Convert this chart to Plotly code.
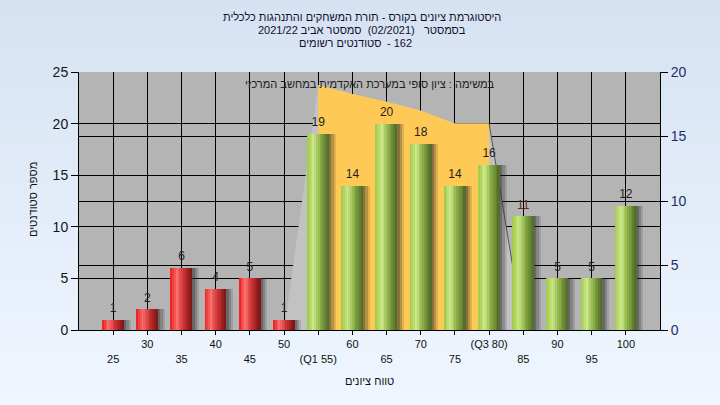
import plotly.graph_objects as go

# ---------------- data ----------------
categories = [25, 30, 35, 40, 45, 50, 55, 60, 65, 70, 75, 80, 85, 90, 95, 100]
counts = [1, 2, 6, 4, 5, 1, 19, 14, 20, 18, 14, 16, 11, 5, 5, 12]
tick_labels = ['25', '30', '35', '40', '45', '50', '(Q1 55)', '60', '65', '70',
               '75', '(Q3 80)', '85', '90', '95', '100']
pass_grade = 55
area_x = [50, 55, 60, 65, 70, 75, 80, 85]
area_y = [0, 19, 18.3, 17.7, 17, 16, 16, 0]

NB = '\u00a0'
title_lines = ['היסטוגרמת ציונים בקורס - תורת המשחקים והתנהגות כלכלית',
               'בסמסטר' + NB * 3 + '(02/2021)' + NB * 2 + 'סמסטר אביב 2021/22']
students_text = 'סטודנטים רשומים'
students_count = '- 162'
inner_note = 'במשימה : ציון סופי במערכת האקדמית במחשב המרכזי'
y_title = 'מספר סטודנטים'
x_title = 'טווח ציונים'

# ---------------- styling helpers ----------------
FONT = 'Liberation Sans, Arial, sans-serif'
BAR_W = 3.1
N_STRIPS = 12

red_stops = [(0.0, (232, 28, 28)), (0.3, (250, 112, 112)), (0.6, (205, 52, 52)), (1.0, (120, 20, 20))]
green_stops = [(0.0, (158, 200, 70)), (0.3, (204, 232, 138)), (0.6, (140, 176, 70)), (1.0, (78, 104, 40))]


def grad(stops, t):
    for (t0, c0), (t1, c1) in zip(stops[:-1], stops[1:]):
        if t0 <= t <= t1:
            f = (t - t0) / (t1 - t0)
            c = [round(a + (b - a) * f) for a, b in zip(c0, c1)]
            return 'rgb(%d,%d,%d)' % tuple(c)
    return 'rgb(%d,%d,%d)' % stops[-1][1]


def px_x(p):
    return (p - 79) / 581


def px_y(p):
    return (330 - p) / 258


fig = go.Figure()

# area (on right axis y)
fig.add_trace(go.Scatter(x=area_x, y=area_y, mode='lines', fill='tozeroy',
                         fillcolor='#c2c2c2', line=dict(width=0), hoverinfo='skip',
                         xaxis='x', yaxis='y', showlegend=False))
fig.add_trace(go.Scatter(x=area_x[1:-1], y=area_y[1:-1], mode='lines', fill='tozeroy',
                         fillcolor='#fec955', line=dict(width=0), hoverinfo='skip',
                         xaxis='x', yaxis='y', showlegend=False))
fig.add_trace(go.Scatter(x=area_x[-2:], y=area_y[-2:], mode='lines',
                         line=dict(color='#555555', width=1), hoverinfo='skip',
                         xaxis='x', yaxis='y', showlegend=False))

# shadows
for off, wd, op in [(BAR_W / 2 - 0.1, 0.45, 0.55), (BAR_W / 2 + 0.35, 0.35, 0.35), (BAR_W / 2 + 0.7, 0.3, 0.15)]:
    fig.add_trace(go.Bar(x=categories, y=counts, width=[wd] * len(categories),
                         offset=[off] * len(categories),
                         marker=dict(color='rgba(40,40,40,%.2f)' % op, line=dict(width=0)),
                         hoverinfo='skip', xaxis='x', yaxis='y2', showlegend=False))

# gradient strips
sw = BAR_W / N_STRIPS
for i in range(N_STRIPS):
    t = (i + 0.5) / N_STRIPS
    cols = [grad(red_stops if c < pass_grade else green_stops, t) for c in categories]
    fig.add_trace(go.Bar(x=categories, y=counts,
                         width=[sw * 1.08] * len(categories),
                         offset=[-BAR_W / 2 + i * sw] * len(categories),
                         marker=dict(color=cols, line=dict(width=0)),
                         hoverinfo='skip', xaxis='x', yaxis='y2', showlegend=False))

# value labels
label_colors = ['#6a2a1a' if v == 11 else '#1e1e1e' for v in counts]
fig.add_trace(go.Scatter(x=categories, y=counts, mode='markers+text',
                         marker=dict(size=6, opacity=0),
                         text=[str(v) for v in counts], textposition='top center', cliponaxis=False,
                         textfont=dict(family=FONT, size=12, color=label_colors),
                         hoverinfo='skip', xaxis='x', yaxis='y2', showlegend=False))

# ---------------- background gradient ----------------
shapes = []
top_c = (214, 226, 242)
bot_c = (239, 246, 255)
nb = 40
ytop, ybot = 1 + 72 / 258, -75 / 258
for k in range(nb):
    f = k / (nb - 1)
    c = tuple(round(a + (b - a) * f) for a, b in zip(top_c, bot_c))
    y0 = ytop - (ytop - ybot) * k / nb
    y1 = ytop - (ytop - ybot) * (k + 1) / nb
    shapes.append(dict(type='rect', xref='paper', yref='paper', x0=-0.2, x1=1.2,
                       y0=y1 - 0.002, y1=y0 + 0.002, fillcolor='rgb(%d,%d,%d)' % c,
                       line=dict(width=0), layer='below'))
shapes.append(dict(type='rect', xref='paper', yref='paper', x0=0, x1=1, y0=0, y1=1,
                   fillcolor='#b4b4b4', line=dict(width=0), layer='below'))

ticktext = [('<br>' + lab) if i % 2 == 0 else lab for i, lab in enumerate(tick_labels)]

title_font = dict(family=FONT, size=11, color='#101030')
annotations = []
for j, line in enumerate(title_lines):
    annotations.append(dict(text=line, xref='paper', yref='paper', x=px_x(362),
                            y=px_y(17 + 13 * j), showarrow=False,
                            xanchor='center', yanchor='middle', font=title_font))
annotations.append(dict(text=students_text, xref='paper', yref='paper', x=px_x(383),
                        y=px_y(43), showarrow=False, xanchor='right', yanchor='middle',
                        font=title_font))
annotations.append(dict(text=students_count, xref='paper', yref='paper', x=px_x(385),
                        y=px_y(43), showarrow=False, xanchor='left', yanchor='middle',
                        font=title_font))
annotations.append(dict(text=inner_note, xref='paper', yref='paper', x=0.5,
                        y=px_y(84), showarrow=False, xanchor='center', yanchor='middle',
                        font=dict(family=FONT, size=11, color='#202020')))
annotations.append(dict(text=x_title, xref='paper', yref='paper', x=0.5,
                        y=px_y(381), showarrow=False, xanchor='center', yanchor='middle',
                        font=dict(family=FONT, size=11, color='#101010')))
annotations.append(dict(text=y_title, xref='paper', yref='paper', x=px_x(33),
                        y=px_y(200), showarrow=False, textangle=-90,
                        xanchor='center', yanchor='middle',
                        font=dict(family=FONT, size=11, color='#101010')))

fig.update_layout(
    width=720, height=405,
    margin=dict(l=79, r=60, t=72, b=75),
    paper_bgcolor='#e4ecf8', plot_bgcolor='#b4b4b4',
    barmode='overlay', bargap=0,
    showlegend=False,
    shapes=shapes, annotations=annotations,
    xaxis=dict(range=[20, 105], tickmode='array', tickvals=categories, ticktext=ticktext,
               showgrid=True, gridcolor='black', gridwidth=1, zeroline=False,
               showline=True, linecolor='black', linewidth=1,
               ticks='outside', ticklen=4, tickcolor='black',
               tickfont=dict(family=FONT, size=11, color='#101010'), tickangle=0),
    yaxis=dict(range=[0, 20], side='right', tickmode='array', tickvals=[0, 5, 10, 15, 20],
               showgrid=True, gridcolor='black', gridwidth=1, zeroline=False,
               showline=True, linecolor='black', linewidth=1,
               ticks='outside', ticklen=7, tickcolor='black',
               tickfont=dict(family=FONT, size=14, color='#1f2f66')),
    yaxis2=dict(range=[0, 25], side='left', overlaying='y', tickmode='array',
                tickvals=[0, 5, 10, 15, 20, 25],
                showgrid=True, gridcolor='black', gridwidth=1, zeroline=False,
                showline=True, linecolor='black', linewidth=1,
                ticks='outside', ticklen=7, tickcolor='black',
                tickfont=dict(family=FONT, size=14, color='#151515')),
)

fig.write_html('out.html', config={'displayModeBar': False},
               post_script="document.body.style.margin='0';document.body.style.overflow='hidden';")
